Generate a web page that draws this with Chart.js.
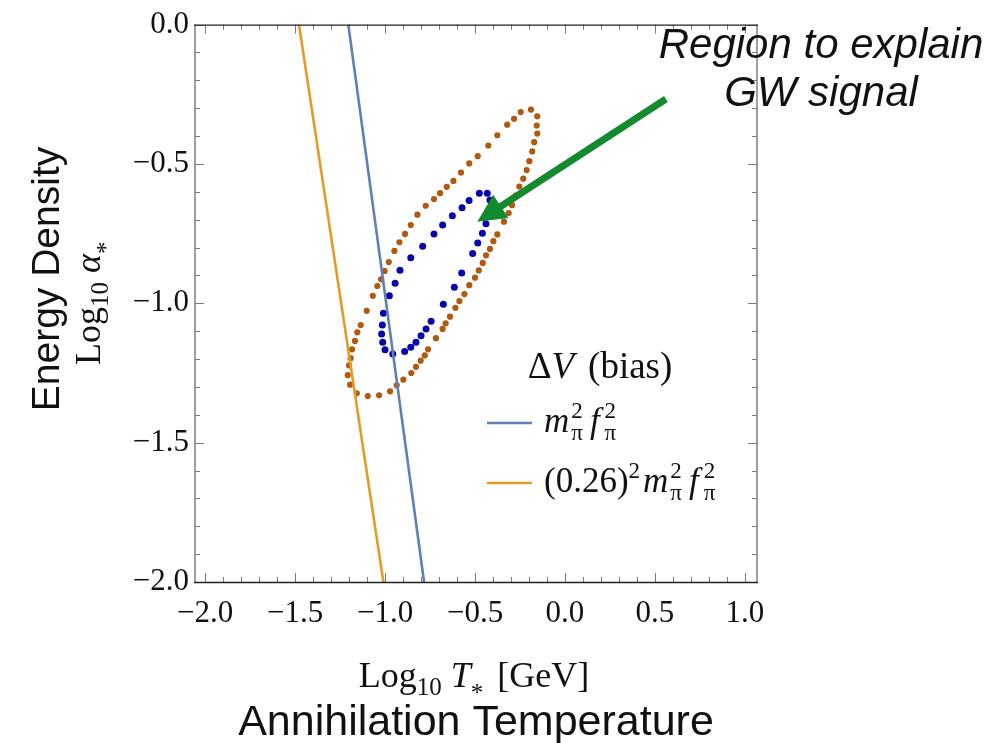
<!DOCTYPE html>
<html><head><meta charset="utf-8">
<script src="https://cdn.jsdelivr.net/npm/chart.js@4"></script>
<style>html,body{margin:0;padding:0;background:#fff;overflow:hidden}#wrap{width:992px;height:743px}</style>
</head><body><div id="wrap"><canvas id="c" width="992" height="743"></canvas></div>
<script>
// ---- axis setup ----
const xTickValues = [-2.0, -1.5, -1.0, -0.5, 0.0, 0.5, 1.0];
const xTickLabels = ['−2.0', '−1.5', '−1.0', '−0.5', '0.0', '0.5', '1.0'];
const yTickValues = [0.0, -0.5, -1.0, -1.5, -2.0];
const yTickLabels = ['0.0', '−0.5', '−1.0', '−1.5', '−2.0'];
const xRange = [-2.056, 1.067];
const yRange = [-2.0, 0.0];

// ---- bias lines (Log10 T*, Log10 alpha*) ----
const biasFullX = [-1.204, -0.783];
const biasFullY = [0.0, -2.0];
const biasSmallX = [-1.478, -1.009];
const biasSmallY = [0.0, -2.0];

// ---- outer (brown) dotted region ----
const outerX = [-0.189,-0.154,-0.157,-0.154,-0.171,-0.182,-0.198,-0.213,-0.232,-0.254,-0.274,-0.294,-0.313,-0.339,-0.376,-0.398,-0.417,-0.439,-0.457,-0.479,-0.500,-0.532,-0.559,-0.587,-0.609,-0.639,-0.663,-0.680,-0.717,-0.761,-0.779,-0.802,-0.828,-0.854,-0.898,-0.935,-0.972,-1.033,-1.096,-1.157,-1.194,-1.207,-1.200,-1.191,-1.183,-1.167,-1.154,-1.135,-1.102,-1.068,-1.043,-1.022,-1.002,-0.979,-0.948,-0.920,-0.889,-0.857,-0.820,-0.774,-0.728,-0.694,-0.657,-0.620,-0.578,-0.532,-0.485,-0.426,-0.376,-0.321,-0.283,-0.246];
const outerY = [-0.305,-0.329,-0.362,-0.391,-0.422,-0.455,-0.490,-0.522,-0.553,-0.581,-0.614,-0.648,-0.676,-0.707,-0.753,-0.777,-0.805,-0.828,-0.855,-0.882,-0.908,-0.935,-0.967,-0.992,-1.016,-1.048,-1.072,-1.092,-1.125,-1.165,-1.187,-1.206,-1.228,-1.250,-1.274,-1.294,-1.316,-1.330,-1.333,-1.323,-1.292,-1.258,-1.223,-1.197,-1.165,-1.135,-1.104,-1.078,-1.027,-0.973,-0.938,-0.914,-0.884,-0.852,-0.812,-0.781,-0.751,-0.719,-0.682,-0.650,-0.626,-0.605,-0.582,-0.561,-0.531,-0.498,-0.472,-0.434,-0.397,-0.359,-0.338,-0.314];

// ---- inner (blue) dotted region ----
const innerX = [-0.476,-0.432,-0.417,-0.428,-0.439,-0.459,-0.485,-0.513,-0.574,-0.615,-0.676,-0.744,-0.772,-0.800,-0.828,-0.857,-0.891,-0.957,-1.000,-1.013,-1.019,-1.015,-1.009,-0.976,-0.944,-0.917,-0.857,-0.791,-0.728,-0.680,-0.626,-0.572,-0.533];
const innerY = [-0.605,-0.605,-0.629,-0.671,-0.715,-0.749,-0.784,-0.821,-0.891,-0.942,-1.003,-1.064,-1.092,-1.116,-1.140,-1.158,-1.173,-1.182,-1.167,-1.140,-1.110,-1.078,-1.036,-0.973,-0.928,-0.881,-0.837,-0.795,-0.751,-0.719,-0.686,-0.657,-0.631];

// ---- arrow (data coords: tail, tip) ----
const arrowTail = [0.561, -0.267];
const arrowTip = [-0.487, -0.707];

const pts = (xs, ys) => xs.map((x, i) => ({x: x, y: ys[i]}));

const SERIF = '"Liberation Serif", "Times New Roman", serif';
const SANS = '"Liberation Sans", Arial, sans-serif';

function richWidth(ctx, parts) {
  let w = 0;
  for (const p of parts) {
    if (p.gap) { w += p.gap; continue; }
    ctx.font = p.font;
    if (p.stack) w += Math.max(...p.stack.map(s => ctx.measureText(s.t).width));
    else w += ctx.measureText(p.t).width;
  }
  return w;
}
function drawRich(ctx, parts, x, y, align) {
  const w = richWidth(ctx, parts);
  let cx = align === 'center' ? x - w / 2 : (align === 'right' ? x - w : x);
  ctx.textAlign = 'left';
  ctx.textBaseline = 'alphabetic';
  for (const p of parts) {
    if (p.gap) { cx += p.gap; continue; }
    ctx.font = p.font;
    if (p.stack) {
      let mw = 0;
      for (const s of p.stack) { ctx.fillText(s.t, cx, y + s.dy); mw = Math.max(mw, ctx.measureText(s.t).width); }
      cx += mw;
    } else {
      ctx.fillText(p.t, cx, y + (p.dy || 0));
      cx += ctx.measureText(p.t).width;
    }
  }
}

const decor = {
  id: 'decor',
  afterDatasetsDraw(chart) {
    const ctx = chart.ctx, a = chart.chartArea, xs = chart.scales.x, ys = chart.scales.y;
    ctx.save();
    // arrow
    const tx = xs.getPixelForValue(arrowTail[0]), ty = ys.getPixelForValue(arrowTail[1]);
    const hx = xs.getPixelForValue(arrowTip[0]), hy = ys.getPixelForValue(arrowTip[1]);
    const ang = Math.atan2(hy - ty, hx - tx);
    const hl = 28, hw = 14;
    const bx = hx - hl * Math.cos(ang), by = hy - hl * Math.sin(ang);
    ctx.strokeStyle = '#138a2e'; ctx.fillStyle = '#138a2e';
    ctx.lineWidth = 7; ctx.lineCap = 'butt';
    ctx.beginPath(); ctx.moveTo(tx, ty); ctx.lineTo(bx + 3 * Math.cos(ang), by + 3 * Math.sin(ang)); ctx.stroke();
    ctx.beginPath();
    ctx.moveTo(hx, hy);
    ctx.lineTo(bx + hw * Math.sin(ang), by - hw * Math.cos(ang));
    ctx.lineTo(bx - hw * Math.sin(ang), by + hw * Math.cos(ang));
    ctx.closePath(); ctx.fill();

    // ticks
    ctx.strokeStyle = '#7a7a7a'; ctx.lineWidth = 1;
    for (let k = -20; k <= 10; k++) {
      const v = k / 10, px = Math.round(xs.getPixelForValue(v)) + 0.5;
      const L = (k % 5 === 0) ? 9 : 5;
      ctx.beginPath();
      ctx.moveTo(px, a.bottom); ctx.lineTo(px, a.bottom - L);
      ctx.moveTo(px, a.top); ctx.lineTo(px, a.top + L);
      ctx.stroke();
    }
    for (let k = -20; k <= 0; k++) {
      const v = k / 10, py = Math.round(ys.getPixelForValue(v)) + 0.5;
      const L = (k % 5 === 0) ? 9 : 5;
      ctx.beginPath();
      ctx.moveTo(a.left, py); ctx.lineTo(a.left + L, py);
      ctx.moveTo(a.right, py); ctx.lineTo(a.right - L, py);
      ctx.stroke();
    }
    // frame
    ctx.strokeStyle = '#888'; ctx.lineWidth = 1.6;
    ctx.beginPath();
    ctx.moveTo(a.left, a.top); ctx.lineTo(a.left, a.bottom);
    ctx.moveTo(a.right, a.top); ctx.lineTo(a.right, a.bottom);
    ctx.stroke();
    ctx.strokeStyle = '#222'; ctx.lineWidth = 1.3;
    ctx.beginPath();
    ctx.moveTo(a.left - 1, a.top + 0.5); ctx.lineTo(a.right + 1, a.top + 0.5);
    ctx.moveTo(a.left - 1, a.bottom + 0.5); ctx.lineTo(a.right + 1, a.bottom + 0.5);
    ctx.stroke();
    ctx.restore();
  },
  afterDraw(chart) {
    const ctx = chart.ctx, a = chart.chartArea;
    ctx.save();
    ctx.fillStyle = '#111';
    const M = 36, S = 25;
    // x title (math)
    drawRich(ctx, [
      {t: 'Log', font: `${M}px ${SERIF}`},
      {t: '10', font: `${S}px ${SERIF}`, dy: 8},
      {gap: 9},
      {t: 'T', font: `italic ${M}px ${SERIF}`},
      {t: '*', font: `${S}px ${SERIF}`, dy: 14},
      {gap: 14},
      {t: '[GeV]', font: `${M}px ${SERIF}`}
    ], (a.left + a.right) / 2 - 2, 687, 'center');
    // x title (words)
    ctx.font = `43px ${SANS}`; ctx.textAlign = 'center'; ctx.textBaseline = 'alphabetic';
    ctx.fillText('Annihilation Temperature', 476, 735);

    // y titles
    ctx.save();
    ctx.translate(100, (a.top + a.bottom) / 2);
    ctx.rotate(-Math.PI / 2);
    drawRich(ctx, [
      {t: 'Log', font: `${M}px ${SERIF}`},
      {t: '10', font: `${S}px ${SERIF}`, dy: 8},
      {gap: 9},
      {t: 'α', font: `italic ${M}px ${SERIF}`},
      {t: '*', font: `${S}px ${SERIF}`, dy: 14}
    ], 0, 0, 'center');
    ctx.restore();
    ctx.save();
    ctx.translate(59, 279);
    ctx.rotate(-Math.PI / 2);
    ctx.font = `39px ${SANS}`; ctx.textAlign = 'center'; ctx.textBaseline = 'alphabetic';
    ctx.fillText('Energy Density', 0, 0);
    ctx.restore();

    // annotation
    ctx.font = `italic 42px ${SANS}`; ctx.textAlign = 'center'; ctx.textBaseline = 'alphabetic';
    ctx.fillText('Region to explain', 821, 58);
    ctx.fillText('GW signal', 821, 106);

    // legend
    const L = 37, E = 35, Ls = 23;
    drawRich(ctx, [
      {t: 'Δ', font: `${L}px ${SERIF}`},
      {t: 'V', font: `italic ${L}px ${SERIF}`},
      {gap: 14},
      {t: '(bias)', font: `${L}px ${SERIF}`}
    ], 600, 378, 'center');
    const mf = [
      {t: 'm', font: `italic ${E}px ${SERIF}`},
      {gap: 2},
      {stack: [{t: '2', dy: -14}, {t: 'π', dy: 8}], font: `${Ls}px ${SERIF}`},
      {gap: 7},
      {t: 'f', font: `italic ${E}px ${SERIF}`},
      {gap: 5},
      {stack: [{t: '2', dy: -14}, {t: 'π', dy: 8}], font: `${Ls}px ${SERIF}`}
    ];
    const entries = [
      {color: '#5e81b5', y: 423, parts: mf},
      {color: '#e19c24', y: 483, parts: [
        {t: '(0.26)', font: `${E}px ${SERIF}`},
        {t: '2', font: `${Ls}px ${SERIF}`, dy: -14},
        {gap: 3}
      ].concat(mf)}
    ];
    for (const e of entries) {
      ctx.strokeStyle = e.color; ctx.lineWidth = 2.5;
      ctx.beginPath(); ctx.moveTo(487, e.y); ctx.lineTo(532, e.y); ctx.stroke();
      ctx.fillStyle = '#111';
      drawRich(ctx, e.parts, 544, e.y + 9, 'left');
    }
    ctx.restore();
  }
};

const tickFont = {family: SERIF, size: 31};

new Chart(document.getElementById('c'), {
  type: 'scatter',
  data: {
    datasets: [
      {type: 'line', label: 'full bias', data: pts(biasFullX, biasFullY), borderColor: '#5e81b5', borderWidth: 2.6, pointRadius: 0, fill: false},
      {type: 'line', label: '(0.26)^2 bias', data: pts(biasSmallX, biasSmallY), borderColor: '#e19c24', borderWidth: 2.6, pointRadius: 0, fill: false},
      {label: 'outer', data: pts(outerX, outerY), backgroundColor: '#b0590f', borderWidth: 0, pointRadius: 3.1, pointHoverRadius: 3.1},
      {label: 'inner', data: pts(innerX, innerY), backgroundColor: '#0606ae', borderWidth: 0, pointRadius: 3.5, pointHoverRadius: 3.5}
    ]
  },
  options: {
    responsive: false,
    animation: false,
    devicePixelRatio: 1,
    layout: {padding: {left: 0, top: 21, right: 235, bottom: 0}},
    plugins: {legend: {display: false}, tooltip: {enabled: false}},
    events: [],
    scales: {
      x: {
        type: 'linear', min: xRange[0], max: xRange[1],
        afterBuildTicks: s => { s.ticks = xTickValues.map(v => ({value: v})); },
        afterFit: s => { s.height = 161; },
        grid: {display: false, drawTicks: false},
        border: {display: false},
        ticks: {font: tickFont, color: '#111', padding: 13, autoSkip: false, maxRotation: 0,
          callback: (v, i) => xTickLabels[i]}
      },
      y: {
        type: 'linear', min: yRange[0], max: yRange[1],
        afterBuildTicks: s => { s.ticks = yTickValues.map(v => ({value: v})); },
        afterFit: s => { s.width = 195; },
        grid: {display: false, drawTicks: false},
        border: {display: false},
        ticks: {font: tickFont, color: '#111', padding: 6, autoSkip: false,
          callback: (v, i) => yTickLabels[i]}
      }
    }
  },
  plugins: [decor]
});
</script>
</body></html>
